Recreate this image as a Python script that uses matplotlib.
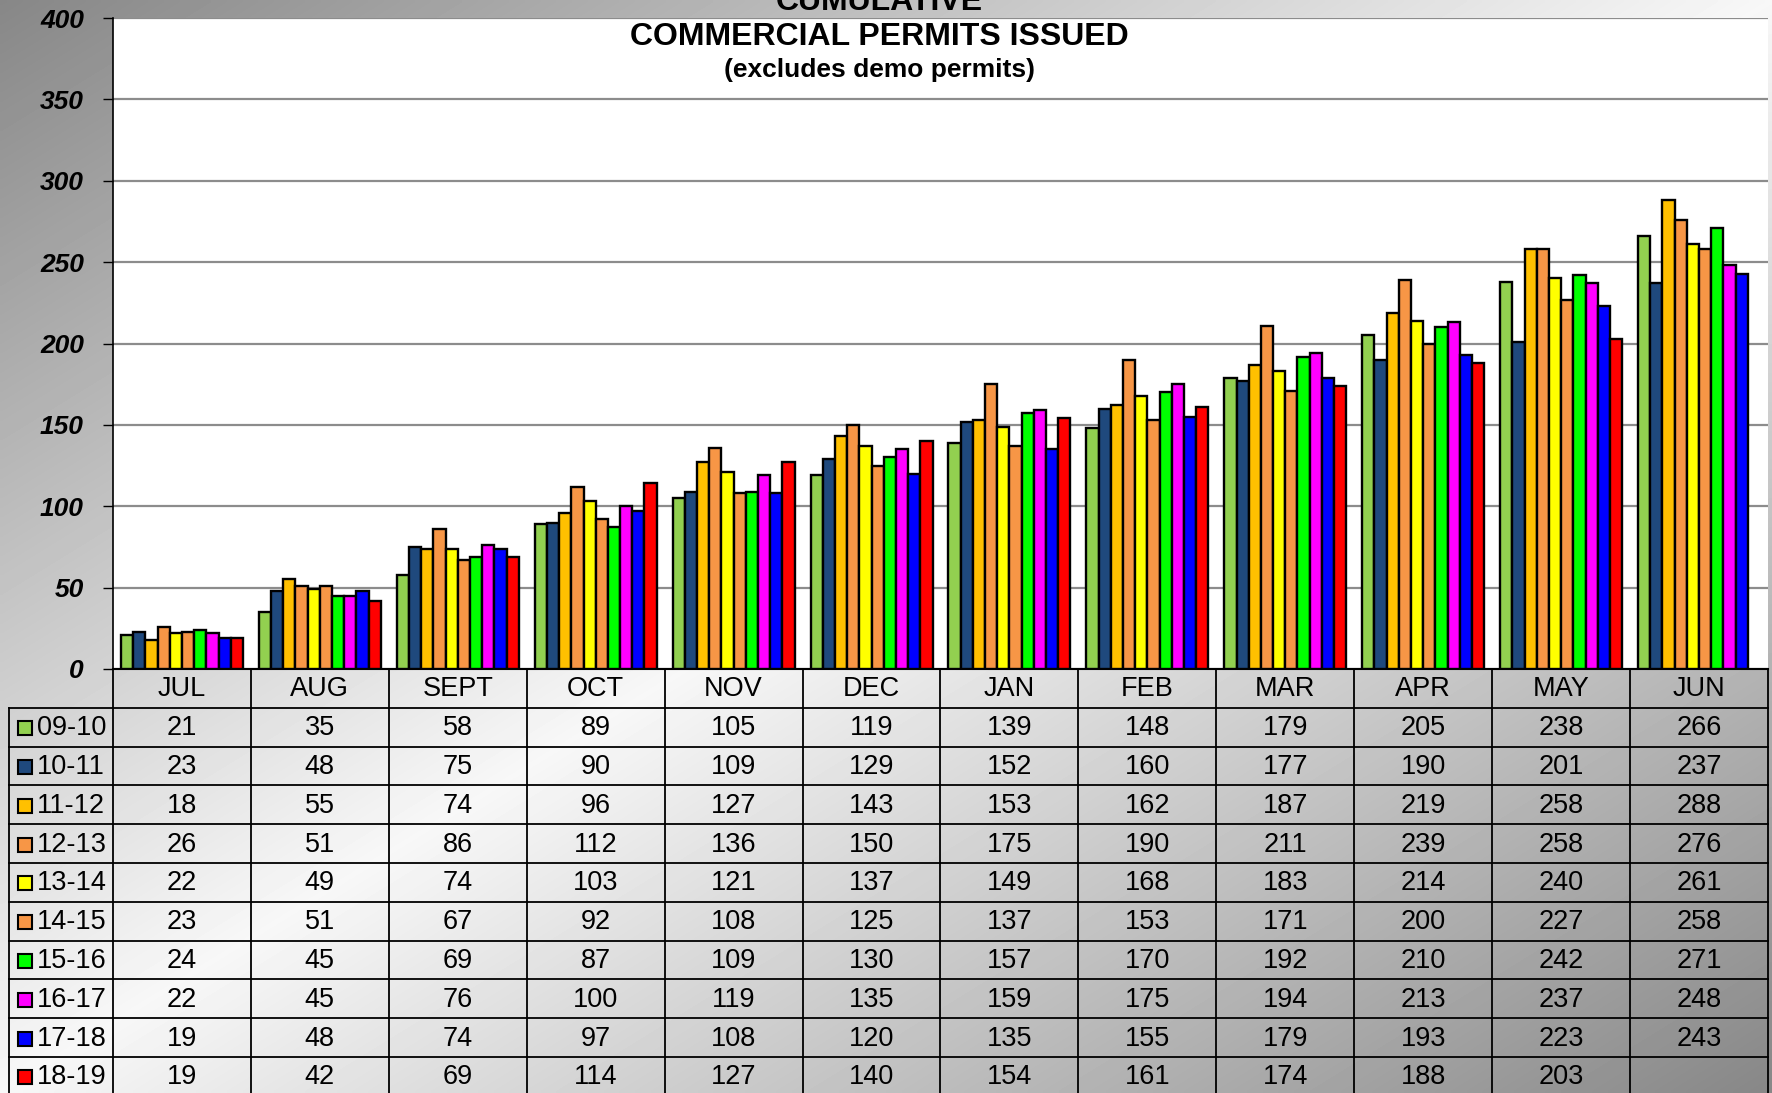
import numpy as np
import matplotlib
matplotlib.use("Agg")
import matplotlib.pyplot as plt

plt.rcParams['font.family'] = ['Liberation Sans', 'DejaVu Sans']

months = ['JUL', 'AUG', 'SEPT', 'OCT', 'NOV', 'DEC',
          'JAN', 'FEB', 'MAR', 'APR', 'MAY', 'JUN']
years = ['09-10', '10-11', '11-12', '12-13', '13-14',
         '14-15', '15-16', '16-17', '17-18', '18-19']

fy0910 = [21, 35, 58, 89, 105, 119, 139, 148, 179, 205, 238, 266]
fy1011 = [23, 48, 75, 90, 109, 129, 152, 160, 177, 190, 201, 237]
fy1112 = [18, 55, 74, 96, 127, 143, 153, 162, 187, 219, 258, 288]
fy1213 = [26, 51, 86, 112, 136, 150, 175, 190, 211, 239, 258, 276]
fy1314 = [22, 49, 74, 103, 121, 137, 149, 168, 183, 214, 240, 261]
fy1415 = [23, 51, 67, 92, 108, 125, 137, 153, 171, 200, 227, 258]
fy1516 = [24, 45, 69, 87, 109, 130, 157, 170, 192, 210, 242, 271]
fy1617 = [22, 45, 76, 100, 119, 135, 159, 175, 194, 213, 237, 248]
fy1718 = [19, 48, 74, 97, 108, 120, 135, 155, 179, 193, 223, 243]
fy1819 = [19, 42, 69, 114, 127, 140, 154, 161, 174, 188, 203, None]

series = [fy0910, fy1011, fy1112, fy1213, fy1314,
          fy1415, fy1516, fy1617, fy1718, fy1819]
colors = ['#92d050', '#1f497d', '#ffc000', '#f79646', '#ffff00',
          '#f79646', '#00ff00', '#ff00ff', '#0000ff', '#ff0000']

W, H = 1772, 1093
fig = plt.figure(figsize=(W / 100, H / 100), dpi=100)

# gray diagonal gradient background
bg = fig.add_axes([0, 0, 1, 1], zorder=-5)
xx, yy = np.meshgrid(np.linspace(0, 1, 400), np.linspace(0, 1, 250))
t = (xx + yy) / 2
v = 0.53 + 0.44 * (1 - np.abs(2 * t - 1))
bg.imshow(v, cmap='gray', vmin=0, vmax=1, aspect='auto',
          extent=(0, 1, 1, 0), interpolation='bilinear')
bg.set_xlim(0, 1)
bg.set_ylim(1, 0)
bg.axis('off')

# chart area (pixel layout of the reference)
x0, x1 = 113, 1768
ytop, ybot = 18, 669
ax = fig.add_axes([x0 / W, 1 - ybot / H, (x1 - x0) / W, (ybot - ytop) / H])
ax.set_facecolor('white')

n = len(series)
bw = 0.0884
xc = np.arange(len(months))
for i, (vals, c) in enumerate(zip(series, colors)):
    xs = [x for x, val in zip(xc, vals) if val is not None]
    hs = [val for val in vals if val is not None]
    ax.bar(np.array(xs) + (i - (n - 1) / 2) * bw, hs, width=bw, color=c,
           edgecolor='black', linewidth=1.7, zorder=3)

ax.set_xlim(-0.5, len(months) - 0.5)
ax.set_ylim(0, 400)
ax.set_yticks(np.arange(0, 401, 50))
ax.set_yticklabels([str(v) for v in range(0, 401, 50)],
                   fontsize=19, fontweight='bold', fontstyle='italic')
ax.tick_params(axis='y', length=7, width=1, direction='out', pad=14)
ax.set_xticks([])
ax.grid(axis='y', color='#8c8c8c', linewidth=1.6, zorder=0)
ax.set_axisbelow(True)
for s in ['top', 'right']:
    ax.spines[s].set_visible(False)
ax.spines['left'].set_linewidth(1.2)
ax.spines['bottom'].set_linewidth(1.5)

# titles
fig.text(879 / W, 1 - 10 / H, 'CUMULATIVE', ha='center', va='baseline',
         fontsize=23, fontweight='bold')
fig.text(879 / W, 1 - 37 / H, 'COMMERCIAL PERMITS ISSUED', ha='center',
         va='center', fontsize=23, fontweight='bold')
fig.text(879 / W, 1 - 70 / H, '(excludes demo permits)', ha='center',
         va='center', fontsize=19, fontweight='bold')

# data table below the chart, in pixel coordinates
tab = fig.add_axes([0, 0, 1, 1], zorder=2)
tab.set_xlim(0, W)
tab.set_ylim(H, 0)
tab.axis('off')

colw = (x1 - x0) / len(months)
rowh = 38.8
hdr_bot = ybot + rowh
tleft = 9
lc = 'black'

for j, m in enumerate(months):
    tab.text(x0 + (j + 0.5) * colw, ybot + rowh / 2 + 1, m, ha='center',
             va='center', fontsize=19.5)
for k in range(len(months) + 1):
    tab.plot([x0 + k * colw] * 2, [ybot, H + 5], color=lc, lw=1.3)
tab.plot([tleft, tleft], [hdr_bot, H + 5], color=lc, lw=1.3)

for r, (lab, vals, c) in enumerate(zip(years, series, colors)):
    ytop_r = hdr_bot + r * rowh
    ymid = ytop_r + rowh / 2 + 1
    tab.plot([tleft, x1], [ytop_r, ytop_r], color=lc, lw=1.3)
    tab.plot([25], [ymid], marker='s', markersize=10, markerfacecolor=c,
             markeredgecolor='black', markeredgewidth=1.5)
    tab.text(37, ymid, lab, ha='left', va='center', fontsize=19.5)
    for j, val in enumerate(vals):
        if val is not None:
            tab.text(x0 + (j + 0.5) * colw, ymid, str(val), ha='center',
                     va='center', fontsize=19.5)

fig.savefig('out.png', dpi=100)
